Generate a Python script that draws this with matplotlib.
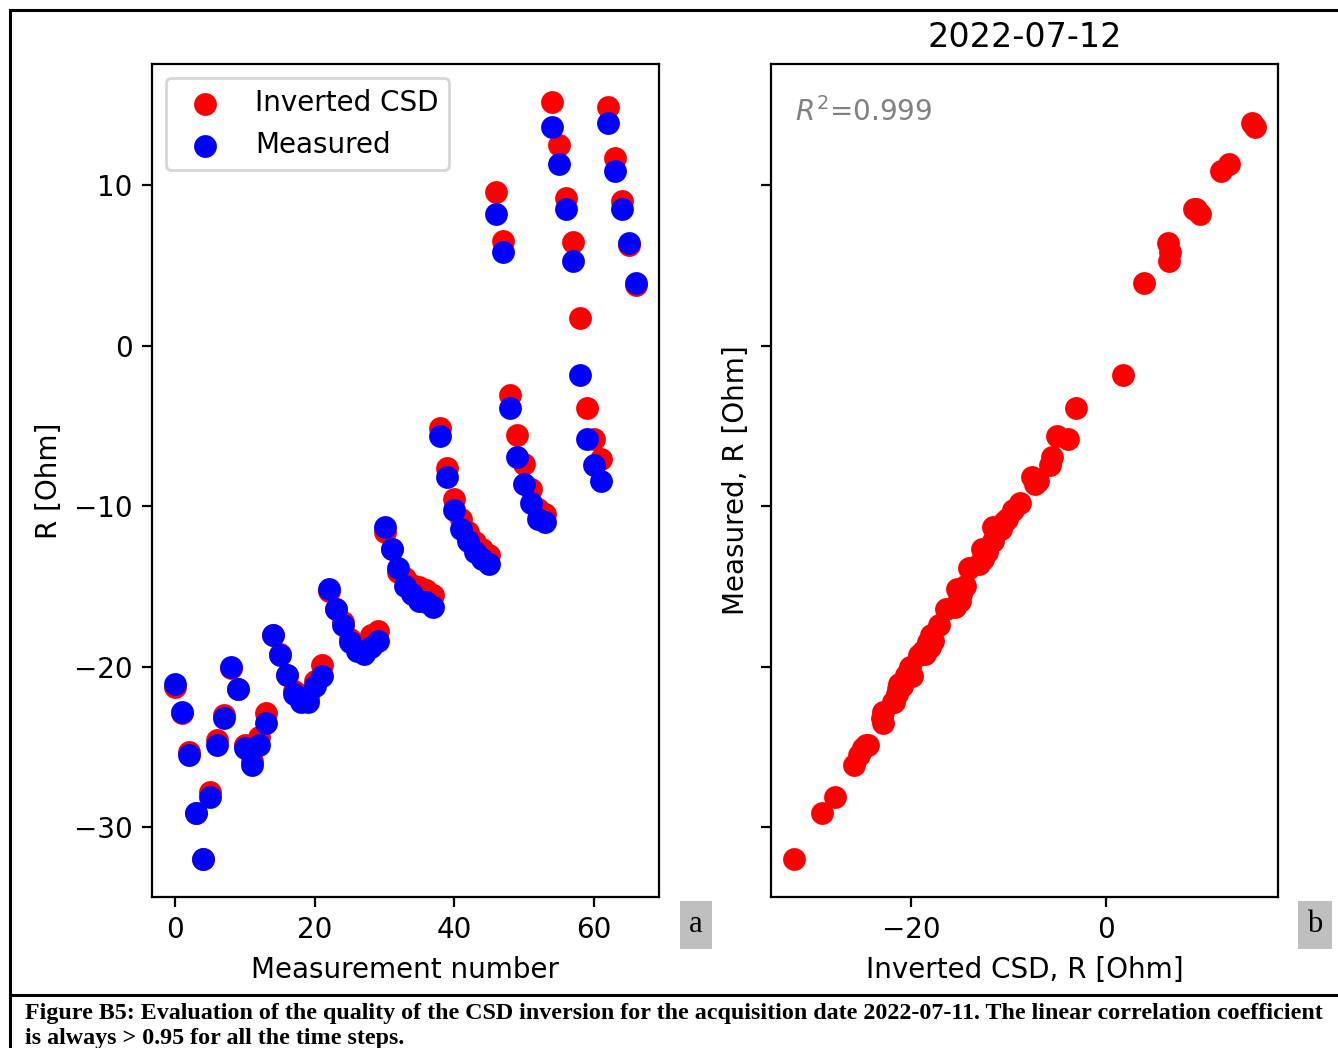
import matplotlib.pyplot as plt
from matplotlib.lines import Line2D
from matplotlib.ticker import MultipleLocator

plt.rcParams['font.family'] = ['DejaVu Sans']

meas_num = list(range(67))
inverted = [-21.25, -22.9, -25.3, -29.1, -32.0, -27.8, -24.6, -23.0, -20.1, -21.4,
            -24.9, -25.9, -24.4, -22.9, -18.0, -19.2, -20.5, -21.5, -21.8, -21.9,
            -20.9, -19.9, -15.3, -16.4, -17.2, -18.25, -18.8, -18.6, -18.05, -17.75,
            -11.6, -12.7, -14.1, -14.5, -14.9, -15.05, -15.25, -15.55, -5.1, -7.65,
            -9.55, -10.8, -11.6, -12.25, -12.65, -13.05, 9.6, 6.55, -3.1, -5.55,
            -7.35, -8.9, -10.15, -10.5, 15.2, 12.5, 9.2, 6.45, 1.7, -3.9,
            -5.8, -7.05, 14.9, 11.7, 9.0, 6.3, 3.8]
measured = [-21.1, -22.8, -25.5, -29.1, -32.0, -28.1, -24.9, -23.2, -20.0, -21.4,
            -25.1, -26.15, -24.9, -23.5, -18.0, -19.25, -20.5, -21.7, -22.2, -22.2,
            -21.2, -20.6, -15.15, -16.4, -17.4, -18.45, -19.0, -19.2, -18.8, -18.4,
            -11.3, -12.65, -13.85, -15.0, -15.5, -15.9, -16.0, -16.3, -5.6, -8.2,
            -10.25, -11.45, -12.2, -12.85, -13.3, -13.6, 8.2, 5.85, -3.9, -6.95,
            -8.6, -9.8, -10.8, -11.0, 13.65, 11.3, 8.55, 5.3, -1.85, -5.8,
            -7.45, -8.4, 13.9, 10.9, 8.5, 6.4, 3.9]
r2_text = "$R^2$=0.999"
date = "2022-07-12"
caption = ("Figure B5: Evaluation of the quality of the CSD inversion for the acquisition date "
           "2022-07-11. The linear correlation coefficient\nis always > 0.95 for all the time steps.")


def main():
    fig = plt.figure(figsize=(6.69, 5.24), dpi=200)
    ax1 = fig.add_axes([0.1136, 0.1441, 0.3789, 0.7948])
    ax2 = fig.add_axes([0.5762, 0.1441, 0.3789, 0.7948], sharey=ax1)

    ax1.scatter(meas_num, inverted, s=52, c='red', label='Inverted CSD')
    ax1.scatter(meas_num, measured, s=52, c='blue', label='Measured')
    ax1.set_xlabel('Measurement number')
    ax1.set_ylabel('R [Ohm]')
    ax1.legend(loc='upper left')

    ax2.scatter(inverted, measured, s=52, c='red')
    ax2.set_xlabel('Inverted CSD, R [Ohm]')
    ax2.set_ylabel('Measured, R [Ohm]')
    ax2.set_title(date, fontsize=12)
    ax2.xaxis.set_major_locator(MultipleLocator(20))
    ax2.tick_params(labelleft=False)
    ax2.text(0.047, 0.96, r2_text, transform=ax2.transAxes, va='top', ha='left',
             color='gray', fontsize=10)

    # panel letters
    for xf, letter in [(696 / 1338, 'a'), (1315 / 1338, 'b')]:
        fig.text(xf, 1 - 925 / 1048, letter, ha='center', va='center', fontsize=11,
                 family='Liberation Serif',
                 bbox=dict(boxstyle='square,pad=0.3', fc='#bfbfbf', ec='none'))

    # frame of the page figure
    lw = 1.1
    fig.add_artist(Line2D([10 / 1338, 1], [1 - 10 / 1048, 1 - 10 / 1048], color='black', lw=lw))
    fig.add_artist(Line2D([10 / 1338, 10 / 1338], [1 - 10 / 1048, 0], color='black', lw=lw))
    fig.add_artist(Line2D([10 / 1338, 1], [1 - 995 / 1048, 1 - 995 / 1048], color='black', lw=lw))

    fig.text(25 / 1338, 1 - 1003 / 1048, caption, ha='left', va='top', fontsize=8.65,
             family='Liberation Serif', weight='bold', linespacing=1.25)

    fig.savefig('out.png', dpi=200)


if __name__ == '__main__':
    main()
